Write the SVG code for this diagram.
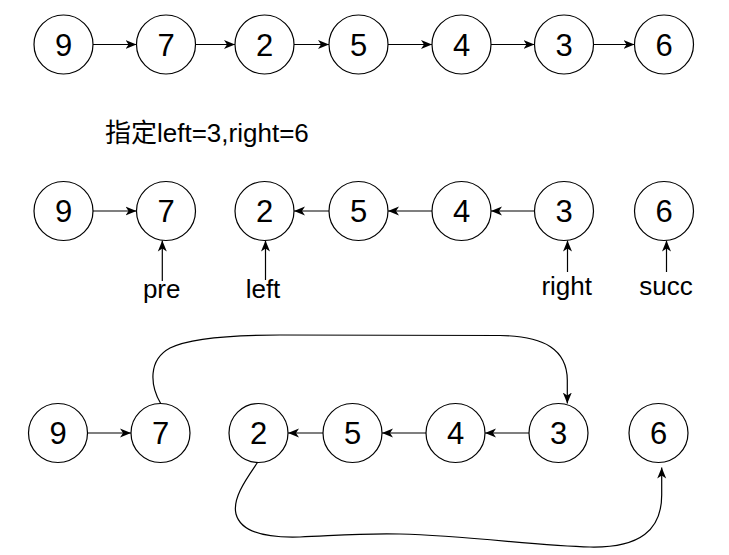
<svg xmlns="http://www.w3.org/2000/svg" width="729" height="555" viewBox="0 0 729 555">
<defs>
<marker id="arr" markerUnits="userSpaceOnUse" markerWidth="12" markerHeight="10" refX="11" refY="5" orient="auto">
<path d="M0,0.5 L11,5 L0,9.5 L3,5 Z" fill="#000"/>
</marker>
<style>
.n circle{fill:#fff;stroke:#000;stroke-width:1.2}
.n text{font-family:"Liberation Sans",Arial,sans-serif;font-size:31px;fill:#000;text-anchor:middle}
.lbl{font-family:"Liberation Sans",Arial,"Noto Sans CJK SC",sans-serif;font-size:26px;fill:#000}
.c line,.c path{stroke:#000;stroke-width:1.2;fill:none;marker-end:url(#arr)}
</style>
</defs>
<rect width="729" height="555" fill="#fff"/>

<g id="connectors" class="c">
<!-- top row -->
<line x1="93" y1="44.5" x2="136.5" y2="44.5"/>
<line x1="195.5" y1="44.5" x2="235" y2="44.5"/>
<line x1="294" y1="44.5" x2="329" y2="44.5"/>
<line x1="388" y1="44.5" x2="432" y2="44.5"/>
<line x1="491" y1="44.5" x2="534.5" y2="44.5"/>
<line x1="593.5" y1="44.5" x2="634.5" y2="44.5"/>
<!-- middle row -->
<line x1="93" y1="211" x2="136.5" y2="211"/>
<line x1="329" y1="211" x2="294" y2="211"/>
<line x1="432" y1="211" x2="388" y2="211"/>
<line x1="534.5" y1="211" x2="491" y2="211"/>
<line x1="162.3" y1="281" x2="162.3" y2="240.5"/>
<line x1="265.5" y1="280" x2="265.5" y2="240.5"/>
<line x1="567.5" y1="272" x2="567.5" y2="240.5"/>
<line x1="666.5" y1="272" x2="666.5" y2="240.5"/>
<!-- bottom row -->
<line x1="87.5" y1="433" x2="131" y2="433"/>
<line x1="323" y1="433" x2="288" y2="433"/>
<line x1="426" y1="433" x2="382" y2="433"/>
<line x1="529" y1="433" x2="485" y2="433"/>
<path d="M160.7,403.5 C150,385 148,360 170,348 C190,338 230,335 280,335 L500,335.5 C545,336 567,350 567.3,380 L567.3,403.5"/>
<path d="M257.5,462.5 C247,478 232,498 236,514 C241,533 268,538 300,537 C330,536 360,533 400,534 C470,536 540,546 590,547 C640,548 661.7,530 661.7,495 L661.7,467.5"/>
</g>

<g id="top-9" class="n"><circle cx="63.5" cy="44.5" r="29.5"/><text x="63.5" y="55.6">9</text></g>
<g id="top-7" class="n"><circle cx="166" cy="44.5" r="29.5"/><text x="166" y="55.6">7</text></g>
<g id="top-2" class="n"><circle cx="264.5" cy="44.5" r="29.5"/><text x="264.5" y="55.6">2</text></g>
<g id="top-5" class="n"><circle cx="358.5" cy="44.5" r="29.5"/><text x="358.5" y="55.6">5</text></g>
<g id="top-4" class="n"><circle cx="461.5" cy="44.5" r="29.5"/><text x="461.5" y="55.6">4</text></g>
<g id="top-3" class="n"><circle cx="564" cy="44.5" r="29.5"/><text x="564" y="55.6">3</text></g>
<g id="top-6" class="n"><circle cx="664" cy="44.5" r="29.5"/><text x="664" y="55.6">6</text></g>

<g id="caption"><text class="lbl" x="105" y="142">指定left=3,right=6</text></g>

<g id="mid-9" class="n"><circle cx="63.5" cy="211" r="29.5"/><text x="63.5" y="222.1">9</text></g>
<g id="mid-7" class="n"><circle cx="166" cy="211" r="29.5"/><text x="166" y="222.1">7</text></g>
<g id="mid-2" class="n"><circle cx="264.5" cy="211" r="29.5"/><text x="264.5" y="222.1">2</text></g>
<g id="mid-5" class="n"><circle cx="358.5" cy="211" r="29.5"/><text x="358.5" y="222.1">5</text></g>
<g id="mid-4" class="n"><circle cx="461.5" cy="211" r="29.5"/><text x="461.5" y="222.1">4</text></g>
<g id="mid-3" class="n"><circle cx="564" cy="211" r="29.5"/><text x="564" y="222.1">3</text></g>
<g id="mid-6" class="n"><circle cx="664" cy="211" r="29.5"/><text x="664" y="222.1">6</text></g>

<g id="label-pre"><text class="lbl" x="161.7" y="298" text-anchor="middle">pre</text></g>
<g id="label-left"><text class="lbl" x="263" y="298" text-anchor="middle">left</text></g>
<g id="label-right"><text class="lbl" x="566.7" y="295" text-anchor="middle">right</text></g>
<g id="label-succ"><text class="lbl" x="666" y="295" text-anchor="middle">succ</text></g>

<g id="bot-9" class="n"><circle cx="58" cy="433" r="29.5"/><text x="58" y="444.1">9</text></g>
<g id="bot-7" class="n"><circle cx="160.5" cy="433" r="29.5"/><text x="160.5" y="444.1">7</text></g>
<g id="bot-2" class="n"><circle cx="258.5" cy="433" r="29.5"/><text x="258.5" y="444.1">2</text></g>
<g id="bot-5" class="n"><circle cx="352.5" cy="433" r="29.5"/><text x="352.5" y="444.1">5</text></g>
<g id="bot-4" class="n"><circle cx="455.5" cy="433" r="29.5"/><text x="455.5" y="444.1">4</text></g>
<g id="bot-3" class="n"><circle cx="558.5" cy="433" r="29.5"/><text x="558.5" y="444.1">3</text></g>
<g id="bot-6" class="n"><circle cx="658.5" cy="433" r="29.5"/><text x="658.5" y="444.1">6</text></g>
</svg>
